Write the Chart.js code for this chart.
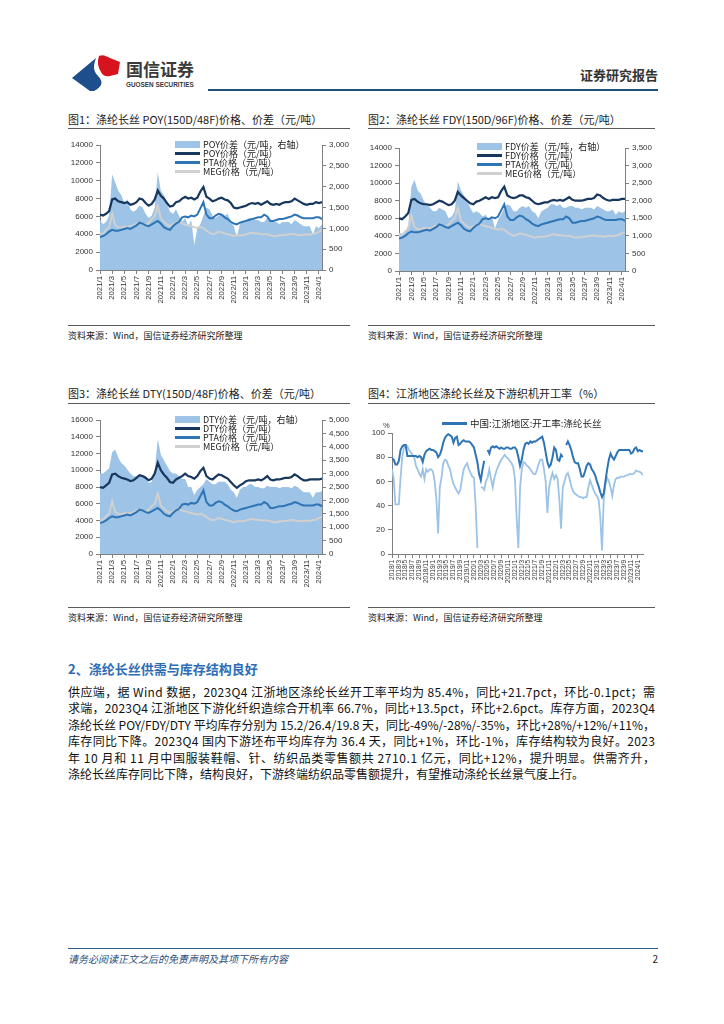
<!DOCTYPE html>
<html><head><meta charset="utf-8">
<script src="https://cdn.jsdelivr.net/npm/chart.js@4.4.0/dist/chart.umd.min.js"></script>
<style>
body{margin:0;width:724px;height:1024px;position:relative;background:#fff;font-family:"Noto Sans CJK SC","Noto Sans",sans-serif;color:#222;overflow:hidden}
.abs{position:absolute;white-space:nowrap}
.title{font-size:11px;line-height:14px;color:#1a1a1a}
.src{font-size:9px;line-height:12px;color:#1a1a1a}
.hr{position:absolute;height:1px;background:#595959}
.leg{position:absolute;font-size:9px;line-height:9px;white-space:nowrap;color:#222;z-index:3}
.sw{position:absolute;z-index:3}
canvas{position:absolute}
#para .pl{height:16.5px;line-height:16.5px;white-space:nowrap}
</style>
</head><body>

<!-- header -->
<svg style="position:absolute;left:70px;top:54px" width="52" height="40" viewBox="0 0 52 40">
<path d="M2,24 L26,4 C24,10 22,16 28,22 C34,28 32,33 24,37 L20,37 Z" fill="#1F4E8C"/>
<path d="M29,2 C33,0 36,2 40,4 L50,8 L48,20 L40,22 C36,23 33,22 31,18 C28,13 27,8 29,2 Z" fill="#D7141E"/>
</svg>
<div class="abs" style="left:126px;top:58px;font-size:17px;line-height:22px;font-weight:700;color:#3a3a3a">国信证券</div>
<div class="abs" style="left:126px;top:81px;font-size:6.4px;line-height:8px;font-weight:700;color:#3a3a3a;font-family:'Liberation Sans',sans-serif">GUOSEN SECURITIES</div>
<div class="abs" style="right:66px;top:66px;font-size:13px;line-height:18px;font-weight:700;color:#333">证券研究报告</div>
<div style="position:absolute;left:208px;top:89px;width:450px;height:2px;background:#1F4E79"></div>

<!-- chart titles / rules / sources -->
<div class="abs title" style="left:68px;top:112px">图1：涤纶长丝 POY(150D/48F)价格、价差（元/吨）</div>
<div class="hr" style="left:68px;top:128px;width:282px"></div>
<div class="hr" style="left:68px;top:325px;width:282px"></div>
<div class="abs src" style="left:68px;top:330px">资料来源：Wind，国信证券经济研究所整理</div>

<div class="abs title" style="left:368px;top:112px">图2：涤纶长丝 FDY(150D/96F)价格、价差（元/吨）</div>
<div class="hr" style="left:368px;top:128px;width:287px"></div>
<div class="hr" style="left:368px;top:325px;width:287px"></div>
<div class="abs src" style="left:368px;top:330px">资料来源：Wind，国信证券经济研究所整理</div>

<div class="abs title" style="left:68px;top:386px">图3：涤纶长丝 DTY(150D/48F)价格、价差（元/吨）</div>
<div class="hr" style="left:68px;top:403px;width:282px"></div>
<div class="hr" style="left:68px;top:607px;width:282px"></div>
<div class="abs src" style="left:68px;top:612px">资料来源：Wind，国信证券经济研究所整理</div>

<div class="abs title" style="left:368px;top:386px">图4：江浙地区涤纶长丝及下游织机开工率（%）</div>
<div class="hr" style="left:368px;top:403px;width:287px"></div>
<div class="hr" style="left:368px;top:607px;width:287px"></div>
<div class="abs src" style="left:368px;top:612px">资料来源：Wind，国信证券经济研究所整理</div>

<canvas id="c1" width="282" height="180" style="left:68px;top:135px;width:282px;height:180px"></canvas>
<canvas id="c2" width="287" height="180" style="left:368px;top:135px;width:287px;height:180px"></canvas>
<canvas id="c3" width="282" height="190" style="left:68px;top:408px;width:282px;height:190px"></canvas>
<canvas id="c4" width="287" height="186" style="left:368px;top:412px;width:287px;height:186px"></canvas>

<!-- legends chart 1 -->
<div class="sw" style="left:175px;top:141px;width:25px;height:7px;background:#9DC3E6"></div>
<div class="leg" style="left:203px;top:140px">POY价差（元/吨，右轴）</div>
<div class="sw" style="left:175px;top:152px;width:25px;height:3px;background:#17375E"></div>
<div class="leg" style="left:203px;top:149px">POY价格（元/吨）</div>
<div class="sw" style="left:175px;top:161px;width:25px;height:3px;background:#2E75B6"></div>
<div class="leg" style="left:203px;top:158px">PTA价格（元/吨）</div>
<div class="sw" style="left:175px;top:170px;width:25px;height:3px;background:#D0D0D0"></div>
<div class="leg" style="left:203px;top:167px">MEG价格（元/吨）</div>

<!-- legends chart 2 -->
<div class="sw" style="left:477px;top:143px;width:25px;height:7px;background:#9DC3E6"></div>
<div class="leg" style="left:505px;top:142px">FDY价差（元/吨，右轴）</div>
<div class="sw" style="left:477px;top:154px;width:25px;height:3px;background:#17375E"></div>
<div class="leg" style="left:505px;top:151px">FDY价格（元/吨）</div>
<div class="sw" style="left:477px;top:163px;width:25px;height:3px;background:#2E75B6"></div>
<div class="leg" style="left:505px;top:160px">PTA价格（元/吨）</div>
<div class="sw" style="left:477px;top:172px;width:25px;height:3px;background:#D0D0D0"></div>
<div class="leg" style="left:505px;top:169px">MEG价格（元/吨）</div>

<!-- legends chart 3 -->
<div class="sw" style="left:175px;top:416px;width:25px;height:7px;background:#9DC3E6"></div>
<div class="leg" style="left:203px;top:415px">DTY价差（元/吨，右轴）</div>
<div class="sw" style="left:175px;top:427px;width:25px;height:3px;background:#17375E"></div>
<div class="leg" style="left:203px;top:424px">DTY价格（元/吨）</div>
<div class="sw" style="left:175px;top:436px;width:25px;height:3px;background:#2E75B6"></div>
<div class="leg" style="left:203px;top:433px">PTA价格（元/吨）</div>
<div class="sw" style="left:175px;top:445px;width:25px;height:3px;background:#D0D0D0"></div>
<div class="leg" style="left:203px;top:442px">MEG价格（元/吨）</div>

<!-- legend chart 4 -->
<div class="sw" style="left:442px;top:422px;width:25px;height:3px;background:#2E75B6"></div>
<div class="leg" style="left:470px;top:418px;font-size:9.5px;line-height:11px">中国:江浙地区:开工率:涤纶长丝</div>
<div class="abs" style="left:383px;top:421px;font-size:7.5px;line-height:9px;color:#333;font-family:'Liberation Sans',sans-serif">%</div>

<!-- text section -->
<div class="abs" style="left:68px;top:660px;font-size:13px;line-height:18px;font-weight:700;color:#2E6DB4">2、涤纶长丝供需与库存结构良好</div>
<div id="para" style="position:absolute;left:68px;top:683.5px;width:587px;font-size:12px;color:#111">
<div class="pl j"><span>供应端，据 Wind 数据，2023Q4 江浙地区涤纶长丝开工率平均为 85.4%，同比+21.7pct，环比-0.1pct；需</span></div>
<div class="pl j"><span>求端，2023Q4 江浙地区下游化纤织造综合开机率 66.7%，同比+13.5pct，环比+2.6pct。库存方面，2023Q4</span></div>
<div class="pl j"><span>涤纶长丝 POY/FDY/DTY 平均库存分别为 15.2/26.4/19.8 天，同比-49%/-28%/-35%，环比+28%/+12%/+11%，</span></div>
<div class="pl j"><span>库存同比下降。2023Q4 国内下游坯布平均库存为 36.4 天，同比+1%，环比-1%，库存结构较为良好。2023</span></div>
<div class="pl j"><span>年 10 月和 11 月中国服装鞋帽、针、纺织品类零售额共 2710.1 亿元，同比+12%，提升明显。供需齐升，</span></div>
<div class="pl"><span>涤纶长丝库存同比下降，结构良好，下游终端纺织品零售额提升，有望推动涤纶长丝景气度上行。</span></div>
</div>

<!-- footer -->
<div style="position:absolute;left:68px;top:948px;width:590px;height:1px;background:#2E5C8A"></div>
<div class="abs" style="left:68px;top:952px;font-size:10px;line-height:14px;font-style:italic;color:#1F4E79">请务必阅读正文之后的免责声明及其项下所有内容</div>
<div class="abs" style="right:66px;top:952px;font-size:10px;line-height:14px;color:#222">2</div>

<script>
// ---------- data (semi-monthly points; charts 1-3 start 2021/1, chart 4 starts 2018/1) ----------
const poySpread = [1200,1100,1150,1300,2300,2100,1900,1800,1600,1700,1450,1400,
 1450,1550,1500,1350,1250,1300,1500,2350,1900,1800,1600,1400,
 1350,1450,1300,1150,1250,1050,1200,600,1000,1100,1300,1500,
 1450,1300,1250,1300,1350,1300,1350,1150,1050,800,1100,1150,
 1200,1250,1250,1200,1200,1150,1150,1250,1200,1150,1150,1100,
 1150,1150,1150,1100,1200,1150,1100,1050,1050,1050,850,1050,
 1000,1100];
const poyPrice = [6200,6100,6300,6600,7900,8000,7700,7600,7500,7600,7300,7400,
 7600,8000,7900,7500,7200,7400,7900,8900,8300,8000,7500,7100,
 7200,7600,7700,8000,8200,8000,8100,7900,8100,8800,9300,8200,
 8000,7700,7800,8000,8100,7900,7800,7500,7000,6900,7000,7100,
 7200,7400,7500,7400,7500,7300,7500,7700,7400,7300,7400,7300,
 7500,7600,7600,7700,8000,7800,7600,7400,7300,7400,7400,7600,
 7500,7600];
const ptaPrice = [3700,3800,4000,4300,4500,4400,4400,4500,4600,4700,4600,4800,
 5000,5300,5200,5000,4900,5100,5300,5500,5200,4800,4600,4500,
 4900,5200,5400,5900,6000,5900,6100,6000,6200,6900,7600,6200,
 5800,5800,6100,6300,6200,5900,5700,5400,5200,5100,5300,5400,
 5500,5600,5700,5800,5900,5900,6200,6000,5500,5500,5600,5700,
 5700,5800,5900,6000,6200,6100,5900,5800,5800,5800,5800,5900,
 5900,5700];
const megPrice = [4000,4100,4500,4800,6300,5000,4800,4700,4900,4800,4900,5000,
 5200,5300,5200,5000,5300,5700,6000,7200,5800,5400,5100,4900,
 5100,5300,5400,5200,5100,5000,4900,4800,4700,4800,4700,4400,
 4200,4000,4100,4300,4200,4100,4000,3900,3800,3900,3900,3900,
 4000,4100,4200,4100,4100,4000,4000,4000,3900,3800,3800,3900,
 3900,3950,4000,4050,4000,3950,3900,3950,4000,3950,4050,4100,
 4300,4450];
const fdySpread = [1100,1050,1100,1300,2400,2600,2300,2200,2000,1900,1800,1700,
 1700,1800,1750,1700,1500,1550,1700,2550,2300,2150,2000,1800,
 1650,1700,1650,1550,1600,1450,1550,1200,1450,1600,1800,1900,
 1850,1700,1700,1800,1850,1800,1850,1700,1650,1500,1700,1750,
 1800,1900,1900,1850,1900,1800,1800,1850,1850,1800,1800,1750,
 1800,1800,1800,1750,1850,1800,1750,1700,1700,1750,1600,1700,
 1650,1700];
const fdyPrice = [6000,5900,6200,6600,8100,8200,7900,7700,7600,7600,7500,7600,
 7800,8000,7900,7700,7500,7600,8000,9000,8600,8300,8000,7700,
 7600,7900,8000,8200,8400,8200,8400,8300,8400,9100,9600,8600,
 8400,8300,8400,8600,8600,8400,8300,8000,7700,7600,7700,7800,
 7800,8000,8100,8000,8100,8000,8200,8400,8100,8000,8000,8000,
 8100,8200,8200,8300,8700,8600,8300,8100,8000,8100,8100,8100,
 8200,8200];
const dtySpread = [3000,3000,3100,3200,3800,3900,3600,3400,3300,3150,3000,2900,
 2900,2950,2950,2900,2650,2700,3100,4300,3700,3500,3300,3100,
 3000,3000,2900,2800,2800,2500,2500,2200,2400,2500,2600,2800,
 2700,2600,2600,2700,2700,2700,2600,2400,2300,2100,2400,2500,
 2500,2600,2600,2500,2500,2450,2450,2550,2500,2500,2500,2450,
 2500,2500,2500,2450,2550,2500,2400,2300,2300,2300,2100,2300,
 2300,2350];
const dtyPrice = [8000,7900,8200,8500,9500,9600,9300,9100,9000,8900,8700,8800,
 9100,9400,9300,9100,8800,9000,9600,10900,10000,9500,9100,8600,
 8500,8900,9100,9300,9600,9300,9200,9000,9300,9900,10300,9300,
 9000,8900,9200,9500,9400,9200,9000,8600,8200,7900,8200,8400,
 8700,8800,8800,8800,8900,8800,9000,9300,8900,8800,8900,8900,
 9000,9100,9100,9200,9500,9300,9000,8800,8800,8900,8900,8900,
 8900,9000];
const filamentRate = [79,78,74,74,77,86,89,90,90,81,81,81,
 81,81,81,80,81,80,76,82,85,86,87,86,
 86,85,84,80,82,86,92,96,98,99,98,97,
 92,96,97,90,91,93,94,93,93,93,92,90,
 88,82,76,66,61,70,77,null,86,83,88,89,
 88,89,88,87,88,87,87,88,88,87,87,88,
 88,86,80,73,78,86,91,92,91,93,92,93,
 93,94,95,96,97,92,84,76,72,74,80,88,
 86,78,77,82,80,null,90,93,90,86,80,76,
 75,75,70,64,64,68,73,75,74,70,68,65,
 60,56,51,47,50,60,70,78,83,80,78,81,
 84,86,86,86,86,86,86,86,83,84,87,88,
 85,86,85,85];
const weavingRate = [70,62,41,41,41,63,80,88,90,89,86,84,
 82,80,73,70,66,64,70,62,70,68,70,70,
 68,60,45,17,55,63,75,78,77,73,70,63,
 58,55,52,50,53,62,70,73,75,70,67,64,
 63,40,5,null,55,55,53,60,63,70,62,55,
 63,68,72,75,78,80,82,80,79,77,75,72,
 62,30,5,55,70,76,75,73,72,70,68,66,
 66,70,75,78,78,70,60,34,55,62,67,62,
 65,62,45,21,55,60,65,67,62,56,52,50,
 49,48,47,47,46,47,47,55,61,57,53,50,
 48,45,30,3,45,58,63,60,55,48,57,62,
 63,63,64,64,64,65,65,66,66,66,67,69,
 68,68,67,65];
const pointStep = 0.5;   // months between points
const startYear1 = 2021; // charts 1-3
const startYear4 = 2018; // chart 4

// ---------- helpers ----------
Chart.defaults.font.family = '"Liberation Sans", Arial, "Noto Sans CJK SC", sans-serif';
Chart.defaults.color = '#333';
const axisColor = '#808080';
const xy = arr => arr.map((v, i) => ({x: i * pointStep, y: v}));
const monthLabel = base => v => (base + Math.floor(v / 12)) + '/' + (Math.round(v % 12) + 1);
const comma = v => Number(v).toLocaleString('en-US');

function xAxis(max, base, h, fs) {
  return {type: 'linear', position: 'bottom', min: 0, max: max,
    ticks: {stepSize: 2, includeBounds: false, autoSkip: false, maxRotation: 90, minRotation: 90,
      font: {size: fs}, color: '#333', padding: 2, callback: monthLabel(base)},
    grid: {drawOnChartArea: false, drawTicks: true, tickLength: 4, color: axisColor},
    border: {color: axisColor},
    afterFit(s) { s.height = h; }};
}
function yAxis(pos, max, step, w, fmt) {
  return {type: 'linear', position: pos, min: 0, max: max,
    ticks: {stepSize: step, font: {size: 8}, color: '#333', padding: 3, callback: fmt || (v => v)},
    grid: {drawOnChartArea: false, drawTicks: true, tickLength: 4, color: axisColor},
    border: {color: axisColor},
    afterFit(s) { s.width = w; }};
}
function priceChart(id, spread, price, yMax, y1Max, leftW, rightW, padTop, xH) {
  return new Chart(document.getElementById(id), {
    type: 'line',
    data: {datasets: [
      {data: xy(spread), yAxisID: 'y1', fill: 'origin', backgroundColor: '#9DC3E6', borderWidth: 0, pointRadius: 0, order: 4},
      {data: xy(megPrice), yAxisID: 'y', borderColor: '#D0D0D0', borderWidth: 2, pointRadius: 0, fill: false, order: 3},
      {data: xy(ptaPrice), yAxisID: 'y', borderColor: '#2E75B6', borderWidth: 2, pointRadius: 0, fill: false, order: 2},
      {data: xy(price), yAxisID: 'y', borderColor: '#17375E', borderWidth: 2.2, pointRadius: 0, fill: false, order: 1}
    ]},
    options: {responsive: false, animation: false, events: [],
      layout: {padding: {top: padTop, left: 0, right: 0, bottom: 0}},
      plugins: {legend: {display: false}, tooltip: {enabled: false}},
      scales: {x: xAxis(36.5, startYear1, xH, 7.8),
               y: yAxis('left', yMax, 2000, leftW),
               y1: yAxis('right', y1Max, 500, rightW, comma)}}
  });
}

priceChart('c1', poySpread, poyPrice, 14000, 3000, 32, 28, 10, 45);
priceChart('c2', fdySpread, fdyPrice, 14000, 3500, 31, 30, 13, 44);
priceChart('c3', dtySpread, dtyPrice, 16000, 5000, 32, 28, 12, 44);

new Chart(document.getElementById('c4'), {
  type: 'line',
  data: {datasets: [
    {data: xy(weavingRate), borderColor: '#9DC3E6', borderWidth: 1.8, pointRadius: 0, fill: false, order: 2},
    {data: xy(filamentRate), borderColor: '#2E75B6', borderWidth: 2, pointRadius: 0, fill: false, order: 1}
  ]},
  options: {responsive: false, animation: false, events: [],
    layout: {padding: {top: 21, left: 0, right: 12, bottom: 0}},
    plugins: {legend: {display: false}, tooltip: {enabled: false}},
    scales: {x: xAxis(73.5, startYear4, 44, 6.5),
             y: yAxis('left', 100, 20, 24)}}
});

// justify paragraph lines to full width
document.querySelectorAll('#para .pl.j span').forEach(s => {
  const w = s.getBoundingClientRect().width;
  const n = [...s.textContent].length;
  s.style.letterSpacing = ((587 - w) / (n - 1)) + 'px';
});
</script>
</body></html>
